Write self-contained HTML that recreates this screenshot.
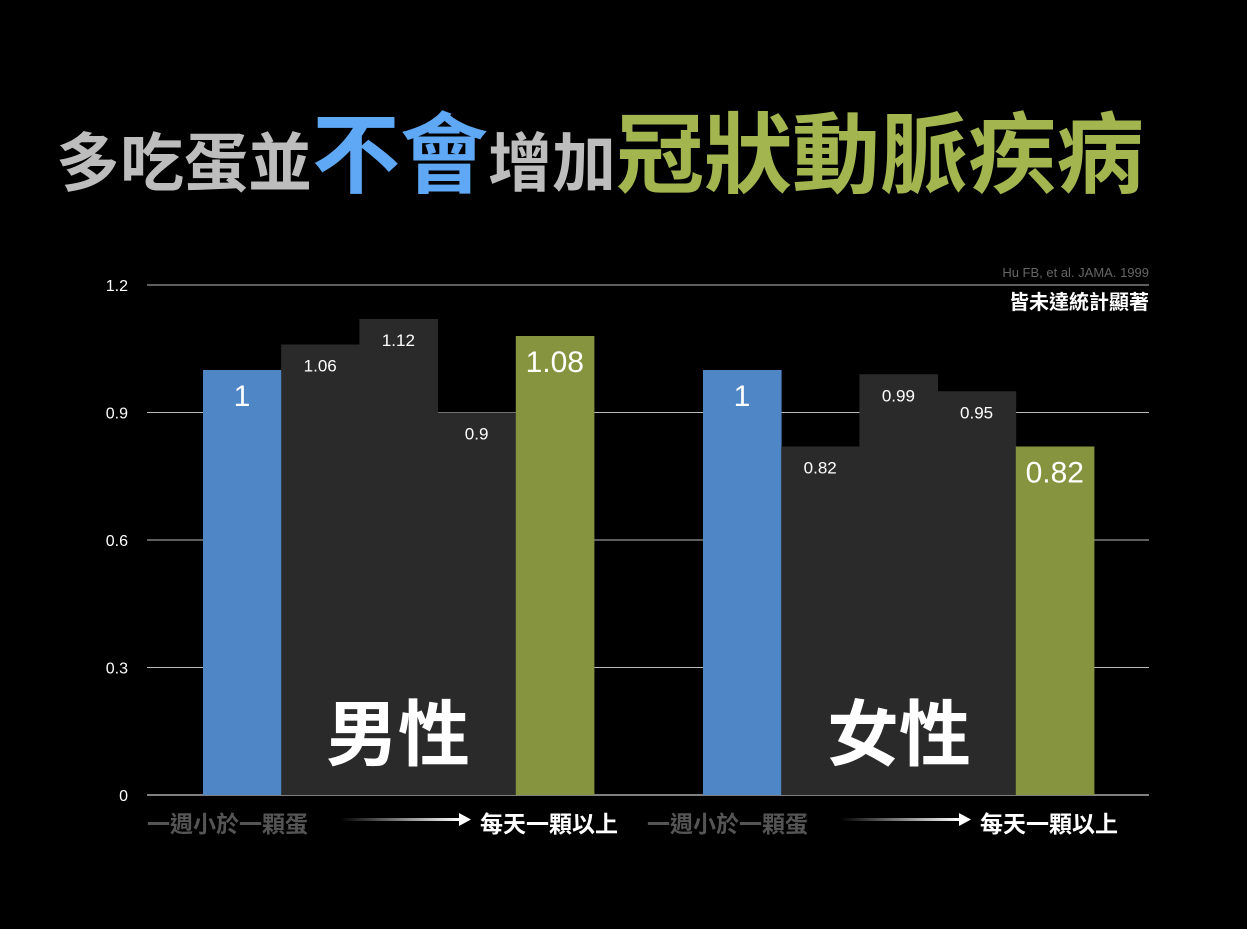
<!DOCTYPE html>
<html><head><meta charset="utf-8"><style>
body{margin:0;background:#000;width:1247px;height:924px;overflow:hidden}
svg text{font-family:"Liberation Sans","Noto Sans CJK TC",sans-serif}
</style></head><body>
<svg id="c" width="1247" height="924" xmlns="http://www.w3.org/2000/svg">
<text x="56" y="186" font-weight="bold"><tspan fill="#bdbdbd" font-size="64">多吃蛋並</tspan><tspan fill="#5ea8f5" font-size="88">不會</tspan><tspan fill="#bdbdbd" font-size="64">增加</tspan><tspan fill="#a2b54f" font-size="88">冠狀動脈疾病</tspan></text>
<g id="grid"></g><g id="bars"></g>
<text x="1149" y="277" text-anchor="end" font-size="13" fill="#666">Hu FB, et al. JAMA. 1999</text>
<text x="1149" y="309" text-anchor="end" font-size="20" font-weight="bold" fill="#fff">皆未達統計顯著</text>
<text x="398" y="760" text-anchor="middle" font-size="72" font-weight="bold" fill="#fff">男性</text>
<text x="899" y="760" text-anchor="middle" font-size="72" font-weight="bold" fill="#fff">女性</text>
<defs><linearGradient id="ag" x1="0" x2="1"><stop offset="0" stop-color="#000"/><stop offset="1" stop-color="#fff"/></linearGradient></defs>
<g id="xl"></g>
</svg>
<script>
const groups=["男性","女性"];
const men=[1,1.06,1.12,0.9,1.08];
const women=[1,0.82,0.99,0.95,0.82];
const yTicks=[0,0.3,0.6,0.9,1.2];
const NS="http://www.w3.org/2000/svg";
const y=v=>795-v/1.2*510;
const mk=(t,a,p)=>{const e=document.createElementNS(NS,t);for(const k in a)e.setAttribute(k,a[k]);p.appendChild(e);return e;};
const grid=document.getElementById('grid');
yTicks.forEach(t=>{
 const l=mk('line',{x1:147,x2:1149,y1:y(t),y2:y(t),stroke:t===0?'#fff':'#bbb','stroke-width':1},grid);
 
 
 const tx=mk('text',{x:128,y:y(t)+6,'text-anchor':'end','font-size':16,fill:'#fff'},grid);
 tx.textContent=String(t);
 
 
});
const bars=document.getElementById('bars');
const colors=['#4f86c6','#2a2a2a','#2a2a2a','#2a2a2a','#87943f'];
[men,women].forEach((arr,g)=>{
 const x0=g?703:203;
 arr.forEach((v,i)=>{
  const x=x0+i*78.2;
  const r=mk('rect',{x:x,y:y(v),width:78.6,height:795-y(v),fill:colors[i]},bars);
  
  
  const big=(i===0||i===4);
  const t=mk('text',{x:x+39,y:y(v)+(big?36:27),'text-anchor':'middle','font-size':big?30:17,fill:'#fff'},bars);
  t.textContent=String(v);
  
  
 });
 const xl=document.getElementById('xl');
 const a=mk('text',{x:x0-56,y:832,'font-size':23,'font-weight':'bold',fill:'#555'},xl);
 a.textContent='一週小於一顆蛋';
 
 
 const ln=mk('rect',{x:x0+137,y:818,width:120,height:3,fill:'url(#ag)'},xl);
 
 
 const ah=mk('polygon',{points:`${x0+256},813 ${x0+268},819.5 ${x0+256},826`,fill:'#fff'},xl);
 
 
 const b=mk('text',{x:x0+277,y:832,'font-size':23,'font-weight':'bold',fill:'#fff'},xl);
 b.textContent='每天一顆以上';
 
 
});
</script>
</body></html>
